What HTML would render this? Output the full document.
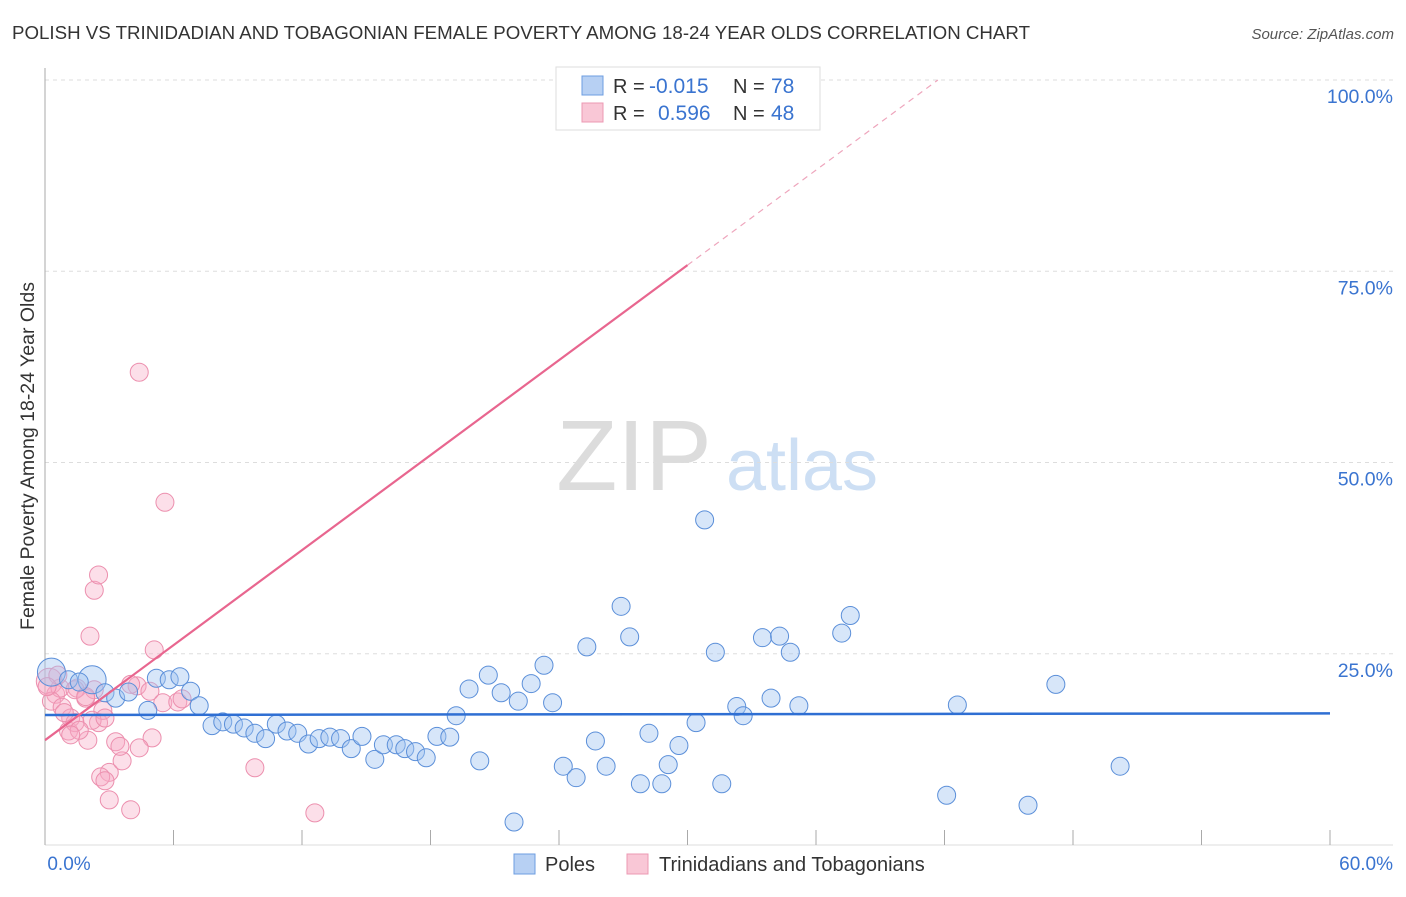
<!DOCTYPE html>
<html><head><meta charset="utf-8"><style>
body{margin:0;background:#fff;font-family:"Liberation Sans",sans-serif;}
svg text{font-family:"Liberation Sans",sans-serif;}
</style></head><body>
<svg id="chart" width="1406" height="892" viewBox="0 0 1406 892" xmlns="http://www.w3.org/2000/svg">
<text x="12" y="39" font-size="18" fill="#333" textLength="1018" lengthAdjust="spacingAndGlyphs">POLISH VS TRINIDADIAN AND TOBAGONIAN FEMALE POVERTY AMONG 18-24 YEAR OLDS CORRELATION CHART</text>
<text x="1394" y="39" font-size="15" fill="#555" text-anchor="end" font-style="italic">Source: ZipAtlas.com</text>
<g>
<text x="634" y="490" font-size="100" fill="#dcdcdc" font-family="Liberation Serif, serif" text-anchor="middle">ZIP</text>
<text x="802" y="490" font-size="72" fill="#cddff4" text-anchor="middle">atlas</text>
</g>
<g id="grid"></g>
<g id="axes"></g>
<g id="marks"></g>
<text transform="translate(34,456) rotate(-90)" font-size="19.5" fill="#333" text-anchor="middle">Female Poverty Among 18-24 Year Olds</text>
<g>
<rect x="556" y="67" width="264" height="63" fill="#fff" stroke="#ddd"/>
<rect x="582" y="76" width="21" height="19" fill="#b7d0f3" stroke="#6d9ee0"/>
<rect x="582" y="103" width="21" height="19" fill="#f9c7d6" stroke="#ec98b3"/>
<text x="613" y="93" font-size="20" fill="#333">R =</text>
<text x="649" y="93" font-size="21" fill="#3a74d0">-0.015</text>
<text x="733" y="93" font-size="20" fill="#333">N =</text>
<text x="771" y="93" font-size="21" fill="#3a74d0">78</text>
<text x="613" y="120" font-size="20" fill="#333">R =</text>
<text x="658" y="120" font-size="21" fill="#3a74d0">0.596</text>
<text x="733" y="120" font-size="20" fill="#333">N =</text>
<text x="771" y="120" font-size="21" fill="#3a74d0">48</text>
</g>
<g>
<rect x="514" y="854" width="21" height="20" fill="#b7d0f3" stroke="#6d9ee0"/>
<text x="545" y="871" font-size="20" fill="#333">Poles</text>
<rect x="627" y="854" width="21" height="20" fill="#f9c7d6" stroke="#ec98b3"/>
<text x="659" y="871" font-size="20" fill="#333">Trinidadians and Tobagonians</text>
</g>
</svg>
<script>
const yTicks=[25,50,75,100];
const yTickLabels=["25.0%","50.0%","75.0%","100.0%"];
const xTickLabels=["0.0%","60.0%"];
const polesX=[0.3,1.1,2.2,1.6,2.8,3.3,3.9,4.8,5.2,5.8,6.3,6.8,7.2,7.8,8.3,8.8,9.3,9.8,10.3,10.8,11.3,11.8,12.3,12.8,13.3,13.8,14.3,14.8,15.4,15.8,16.4,16.8,17.3,17.8,18.3,18.9,19.2,19.8,20.3,20.7,21.3,22.1,22.7,23.3,23.7,24.2,24.8,25.3,25.7,26.2,26.9,27.3,27.8,28.2,28.8,29.1,29.6,30.4,30.8,31.3,31.6,32.3,32.6,33.5,33.9,34.3,34.8,35.2,37.2,37.6,42.1,42.6,45.9,47.2,50.2,21.9];
const polesY=[22.6,21.6,21.6,21.3,19.9,19.2,20.0,17.6,21.8,21.6,22.0,20.1,18.2,15.6,16.1,15.8,15.3,14.6,13.9,15.8,14.9,14.6,13.2,13.9,14.1,13.9,12.6,14.2,11.2,13.1,13.1,12.6,12.2,11.4,14.2,14.1,16.9,20.4,11.0,22.2,19.9,18.8,21.1,23.5,18.6,10.3,8.8,25.9,13.6,10.3,31.2,27.2,8.0,14.6,8.0,10.5,13.0,16.0,42.5,25.2,8.0,18.1,16.9,27.1,19.2,27.3,25.2,18.2,27.7,30.0,6.5,18.3,5.2,21.0,10.3,3.0];
const polesR=[14,9,14,9,9,9,9,9,9,9,9,9,9,9,9,9,9,9,9,9,9,9,9,9,9,9,9,9,9,9,9,9,9,9,9,9,9,9,9,9,9,9,9,9,9,9,9,9,9,9,9,9,9,9,9,9,9,9,9,9,9,9,9,9,9,9,9,9,9,9,9,9,9,9,9,9];
const trinX=[0.2,0.5,0.7,0.3,0.8,1.1,1.2,1.4,1.5,1.9,2.1,2.3,2.5,2.5,2.7,2.0,2.2,2.8,3.3,3.0,2.6,2.8,3.0,3.6,4.0,4.4,5.6,4.3,4.9,5.1,5.0,4.4,5.5,6.2,6.4,9.8,12.6,4.0,1.4,0.9,0.6,0.1,1.6,1.2,2.3,3.5,28.3,1.9];
const trinY=[21.4,19.7,20.5,18.8,18.0,14.9,16.6,16.0,20.5,19.2,27.3,33.3,35.3,16.0,17.6,13.7,16.3,16.6,13.5,9.5,8.9,8.4,5.9,11.0,4.6,61.8,44.8,20.8,20.1,25.5,14.0,12.7,18.6,18.7,19.1,10.1,4.2,21.0,20.3,17.3,22.2,20.7,15.0,14.4,20.3,12.9,100,19.4];
const trinR=[13,9,9,9,9,9,9,9,9,9,9,9,9,9,9,9,9,9,9,9,9,9,9,9,9,9,9,9,9,9,9,9,9,9,9,9,9,9,9,9,9,9,9,9,9,9,9,9];
const polesFit=[17.0,17.2];
const trinFit=[13.7,2.07];

const X0=45,X1=1330,Y0=845,Y100=80;
const sx=v=>X0+(v/60)*(X1-X0);
const sy=v=>Y0-(v/100)*(Y0-Y100);
const NS="http://www.w3.org/2000/svg";
function mk(tag,attrs,parent){const e=document.createElementNS(NS,tag);for(const k in attrs)e.setAttribute(k,attrs[k]);parent.appendChild(e);return e;}
const grid=document.getElementById('grid'),axes=document.getElementById('axes'),marks=document.getElementById('marks');
yTicks.forEach((t,i)=>{
 const l=mk('line',{x1:X0,x2:1393,y1:sy(t),y2:sy(t),stroke:'#ddd','stroke-dasharray':'4,4'},grid);
 
 
 const tx=mk('text',{x:1393,y:sy(t)+23,'font-size':19.5,fill:'#3a74d0','text-anchor':'end'},axes);
 tx.textContent=yTickLabels[i];
 
 
});
const ya=mk('line',{x1:X0,x2:X0,y1:68,y2:Y0,stroke:'#aaa'},axes);


const xa=mk('line',{x1:X0,x2:1393,y1:Y0,y2:Y0,stroke:'#ddd'},axes);


for(let k=0;k<=10;k++){
 const tk=mk('line',{x1:sx(k*6),x2:sx(k*6),y1:830,y2:Y0,stroke:'#aaa'},axes);
 
 
}
const xl0=mk('text',{x:X0+24,y:870,'font-size':19,fill:'#3a74d0','text-anchor':'middle'},axes);
xl0.textContent=xTickLabels[0];


const xl1=mk('text',{x:1393,y:870,'font-size':19,fill:'#3a74d0','text-anchor':'end'},axes);
xl1.textContent=xTickLabels[1];



trinX.forEach((x,i)=>{
 const c=mk('circle',{cx:sx(x),cy:sy(trinY[i]),r:trinR[i],fill:'rgba(246,170,196,0.38)',stroke:'#ec8fae','stroke-width':1},marks);
 
 
});
polesX.forEach((x,i)=>{
 const c=mk('circle',{cx:sx(x),cy:sy(polesY[i]),r:polesR[i],fill:'rgba(160,195,240,0.42)',stroke:'#5b8fd9','stroke-width':1},marks);
 
 
});
const bl=mk('line',{x1:sx(0),x2:sx(60),y1:sy(polesFit[0]),y2:sy(polesFit[1]),stroke:'#2f6fd3','stroke-width':2.5},marks);


const xs=30,xe=(100-trinFit[0])/trinFit[1];
const pl=mk('line',{x1:sx(0),x2:sx(xs),y1:sy(trinFit[0]),y2:sy(trinFit[0]+trinFit[1]*xs),stroke:'#e8668f','stroke-width':2.2},marks);


const pd=mk('line',{x1:sx(xs),x2:sx(xe),y1:sy(trinFit[0]+trinFit[1]*xs),y2:sy(100),stroke:'#eea5bc','stroke-width':1.2,'stroke-dasharray':'6,5'},marks);


</script>
</body></html>
